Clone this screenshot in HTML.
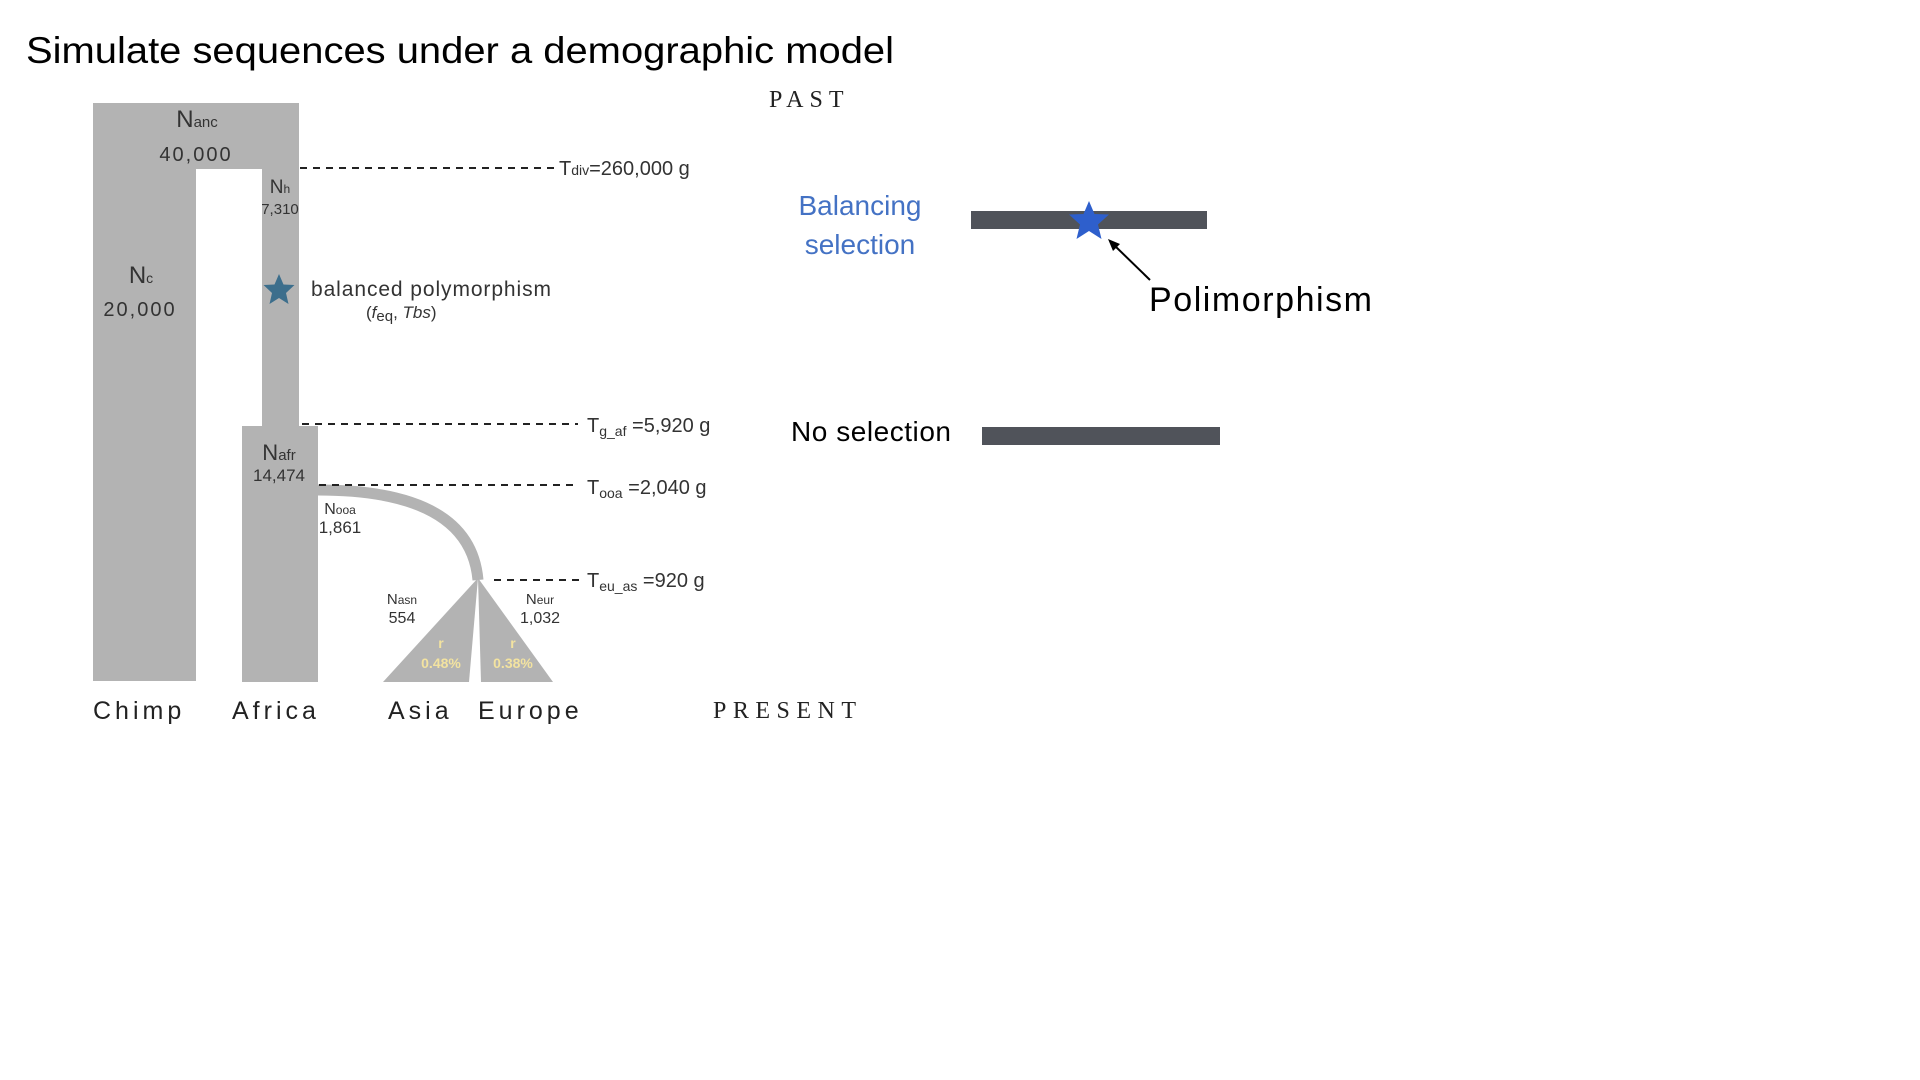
<!DOCTYPE html>
<html><head><meta charset="utf-8"><style>
html,body{margin:0;padding:0;background:#fff;width:1920px;height:1080px;overflow:hidden}
svg{display:block}
.s{font-family:"Liberation Sans",sans-serif}
</style></head><body>
<svg width="1920" height="1080" viewBox="0 0 1920 1080" xmlns="http://www.w3.org/2000/svg">
<text class="s" x="26" y="63" font-size="37" fill="#000" textLength="868" lengthAdjust="spacingAndGlyphs">Simulate sequences under a demographic model</text>

<g fill="#b3b3b3">
<rect x="93" y="103" width="103" height="578"/>
<rect x="93" y="103" width="206" height="66"/>
<rect x="262" y="160" width="37" height="270"/>
<rect x="242" y="426" width="76" height="256"/>
<path d="M318 490 Q470 490 478 580" fill="none" stroke="#b3b3b3" stroke-width="11"/>
<polygon points="478,578 469,682 383,682"/>
<polygon points="478,578 481,682 553,682"/>
</g>

<g stroke="#222" stroke-width="2" stroke-dasharray="7,6">
<line x1="300" y1="168" x2="558" y2="168"/>
<line x1="302" y1="424" x2="578" y2="424"/>
<line x1="319" y1="485" x2="578" y2="485"/>
<line x1="494" y1="580" x2="582" y2="580"/>
</g>
<g class="s" font-size="20" fill="#333">
<text x="559" y="175">T<tspan font-size="14">div</tspan>=260,000 g</text>
<text x="587" y="432">T<tspan font-size="14" dy="4">g_af</tspan><tspan dy="-4"> =5,920 g</tspan></text>
<text x="587" y="494">T<tspan font-size="14" dy="4">ooa</tspan><tspan dy="-4"> =2,040 g</tspan></text>
<text x="587" y="587">T<tspan font-size="14" dy="4">eu_as</tspan><tspan dy="-4"> =920  g</tspan></text>
</g>

<g class="s" fill="#333" text-anchor="middle">
<text x="197" y="127" font-size="24">N<tspan font-size="15">anc</tspan></text>
<text x="196" y="161" font-size="20" letter-spacing="2">40,000</text>
<text x="280" y="193" font-size="19">N<tspan font-size="12">h</tspan></text>
<text x="280" y="214" font-size="15">7,310</text>
<text x="141" y="283" font-size="24">N<tspan font-size="14">c</tspan></text>
<text x="140" y="316" font-size="20" letter-spacing="2">20,000</text>
<text x="279" y="460" font-size="22">N<tspan font-size="15">afr</tspan></text>
<text x="279" y="481" font-size="17">14,474</text>
<text x="340" y="514" font-size="16">N<tspan font-size="12">ooa</tspan></text>
<text x="340" y="533" font-size="17">1,861</text>
<text x="402" y="604" font-size="15">N<tspan font-size="12">asn</tspan></text>
<text x="402" y="623" font-size="16">554</text>
<text x="540" y="604" font-size="15">N<tspan font-size="12">eur</tspan></text>
<text x="540" y="623" font-size="16">1,032</text>
<g fill="#f3e3a0" font-weight="bold" font-size="14">
<text x="441" y="648">r</text>
<text x="441" y="668">0.48%</text>
<text x="513" y="648">r</text>
<text x="513" y="668">0.38%</text>
</g>
</g>

<polygon fill="#3c6e8c" transform="translate(279,290)" points="0,-16 4.5,-5.5 15.5,-5 7,3 9.5,14 0,8 -9.5,14 -7,3 -15.5,-5 -4.5,-5.5"/>
<text class="s" x="311" y="296" font-size="21" fill="#333" textLength="240">balanced  polymorphism</text>
<text class="s" x="366" y="318" font-size="17" fill="#333">(<tspan font-style="italic">f</tspan><tspan font-size="15" dy="3">eq</tspan><tspan dy="-3">, </tspan><tspan font-style="italic">Tbs</tspan>)</text>

<g font-family="Liberation Sans,sans-serif" font-size="25" fill="#222" letter-spacing="4">
<text x="93" y="719">Chimp</text>
<text x="232" y="719">Africa</text>
<text x="388" y="719">Asia</text>
<text x="478" y="719">Europe</text>
</g>
<text x="769" y="107" font-family="Liberation Serif,serif" font-size="24" letter-spacing="6" fill="#222">PAST</text>
<text x="713" y="718" font-family="Liberation Serif,serif" font-size="24" letter-spacing="6.5" fill="#222">PRESENT</text>

<g class="s" font-size="28" fill="#4472c4" text-anchor="middle">
<text x="860" y="215">Balancing</text>
<text x="860" y="254">selection</text>
</g>
<rect x="971" y="211" width="236" height="18" fill="#50535a"/>
<polygon fill="#2e5fcc" transform="translate(1089,221)" points="0,-20 5.5,-7 20,-6.5 9,3.5 12.5,18 0,10 -12.5,18 -9,3.5 -20,-6.5 -5.5,-7"/>
<line x1="1150" y1="280" x2="1114" y2="245" stroke="#000" stroke-width="2"/>
<polygon points="1108,239 1120,244 1113,251" fill="#000"/>
<text class="s" x="1149" y="311" font-size="34" fill="#000" textLength="223">Polimorphism</text>
<text class="s" x="791" y="441" font-size="28" fill="#000" textLength="160">No selection</text>
<rect x="982" y="427" width="238" height="18" fill="#50535a"/>
</svg>
</body></html>
